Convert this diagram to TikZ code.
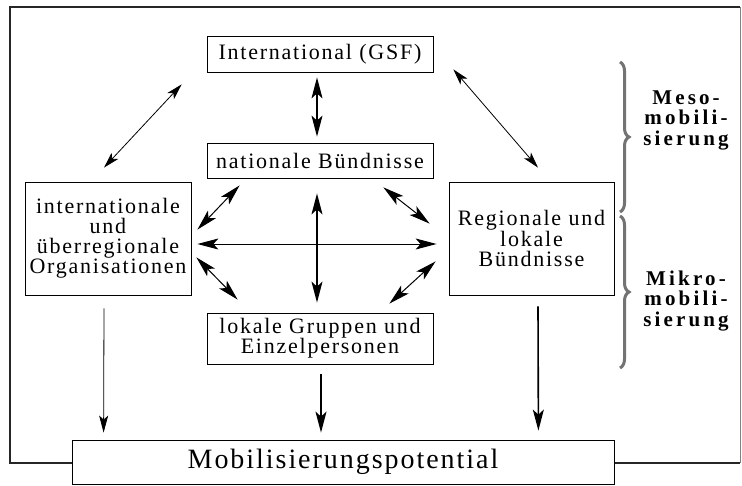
\documentclass[tikz,border=0pt]{standalone}
\usepackage{fontspec}
\setmainfont{Liberation Serif}
\newfontfamily\boxfont[LetterSpace=8]{Liberation Serif}
\newfontfamily\bigfont[LetterSpace=7]{Liberation Serif}
\newfontfamily\sidefont[LetterSpace=15]{Liberation Serif}
\usetikzlibrary{arrows.meta,decorations.pathreplacing}
\tikzset{
	box/.style={draw, line width=0.8pt, fill=white, align=center, inner sep=0pt, font=\boxfont\fontsize{22}{20}\selectfont},
	duo/.style={<->, >={Stealth[length=16pt,width=9pt,inset=4pt]}, line width=0.8pt},
	duobold/.style={<->, >={Stealth[length=21pt,width=11pt,inset=5pt]}, line width=1.4pt},
	down/.style={->, >={Stealth[length=17pt,width=9pt,inset=4pt]}, line width=0.8pt},
	downbold/.style={->, >={Stealth[length=21pt,width=11pt,inset=5pt]}, line width=1.6pt},
	level/.style={decorate, decoration={brace, amplitude=9pt}, draw=black!55, line width=3pt},
	levellabel/.style={align=center, font=\sidefont\bfseries\fontsize{21}{20.5}\selectfont}
}
\begin{document}
\begin{tikzpicture}[x=1pt, y=-1pt]
	\useasboundingbox (0, 0) rectangle (742, 485);
	\draw[line width=1.6pt, black!85] (740, 7) -- (10, 7) -- (10, 463) -- (740, 463);
	\draw[line width=1pt, black!50] (740, 7) -- (740, 463);
	% Boxes
	\node[box, minimum width=226pt, minimum height=36pt] (gsf) at (320, 54) {International (GSF)};
	\node[box, minimum width=226pt, minimum height=35pt] (national) at (320, 160.5) {nationale Bündnisse};
	\node[box, minimum width=166pt, minimum height=113pt] (intorg) at (108, 238.5) {internationale\\und\\überregionale\\Organisationen};
	\node[box, minimum width=165pt, minimum height=113pt] (regional) at (531.5, 238.5) {Regionale und\\lokale\\Bündnisse};
	\node[box, minimum width=226pt, minimum height=51pt] (lokal) at (320, 338.5) {lokale Gruppen und\\Einzelpersonen};
	\node[box, minimum width=542pt, minimum height=44pt, font=\bigfont\fontsize{28}{30}\selectfont] (potential) at (343, 462) {Mobilisierungspotential};
	% Wechselwirkungen
	\draw[duo] ([shift={(-25,12)}]gsf.south west) -- ([shift={(-4,-14)}]intorg.north);
	\draw[duo] ([shift={(20,-3)}]gsf.south east) -- ([shift={(6.5,-14)}]regional.north);
	\draw[duobold, line width=1.1pt] ([shift={(-3,5)}]gsf.south) -- ([shift={(-3,-6)}]national.north);
	\draw[duobold] ([shift={(-3,15)}]national.south) -- ([shift={(-3,-10)}]lokal.north);
	\draw[duobold, line width=1pt] ([shift={(6,5.5)}]intorg.east) -- ([shift={(-12,5.5)}]regional.west);
	\draw[duobold, line width=1pt] ([shift={(33,7)}]national.south west) -- ([shift={(6,48)}]intorg.north east);
	\draw[duobold, line width=1pt] ([shift={(-50,9)}]national.south east) -- ([shift={(-19,42)}]regional.north west);
	\draw[duobold, line width=1pt] ([shift={(5,-38)}]intorg.south east) -- ([shift={(31,-13)}]lokal.north west);
	\draw[duobold, line width=1pt] ([shift={(-44,-9)}]lokal.north east) -- ([shift={(-13,-34)}]regional.south west);
	% Potential
	\draw[down] ([shift={(-4,13)}]intorg.south) -- ([shift={(32,-7)}]potential.north west);
	\draw[downbold] ([shift={(1,10)}]lokal.south) -- ([shift={(-22,-7)}]potential.north);
	\draw[downbold] ([shift={(6.5,11)}]regional.south) -- ([shift={(-76,-9)}]potential.north east);
	% Ebenen
	\draw[level] (620, 62) -- (620, 212);
	\draw[level] (620, 216) -- (620, 368);
	\node[levellabel] (meso) at (686, 120) {Meso-\\mobili-\\sierung};
	\node[levellabel] (mikro) at (686, 301) {Mikro-\\mobili-\\sierung};
\end{tikzpicture}
\end{document}
